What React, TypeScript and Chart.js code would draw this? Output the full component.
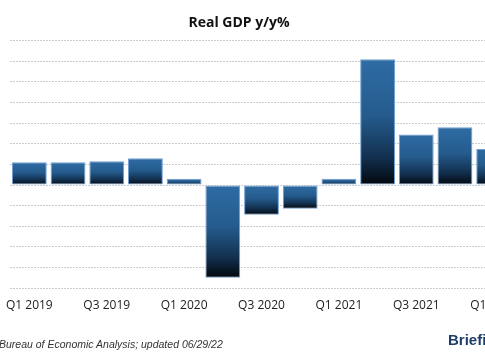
import React, { useEffect, useRef } from "react";
import { Chart, registerables } from "chart.js";

Chart.register(...registerables);

const quarters = [
  "Q1 2019", "Q2 2019", "Q3 2019", "Q4 2019",
  "Q1 2020", "Q2 2020", "Q3 2020", "Q4 2020",
  "Q1 2021", "Q2 2021", "Q3 2021", "Q4 2021",
  "Q1 2022",
];
const gdpYoY = [2.2, 2.2, 2.3, 2.6, 0.6, -9.0, -2.9, -2.3, 0.6, 12.2, 4.9, 5.6, 3.5];
const yMin = -10;
const yMax = 14;
const yStep = 2;
const titleText = "Real GDP y/y%";
const sourceText = "Bureau of Economic Analysis; updated 06/29/22";
const brandText = "Briefing.com";

const CANVAS_W = 548;
const CANVAS_H = 360;

export default function App() {
  const ref = useRef<HTMLCanvasElement | null>(null);

  useEffect(() => {
    const canvas = ref.current;
    if (!canvas) return;
    const chart = new Chart(canvas, {
      type: "bar",
      data: {
        labels: quarters,
        datasets: [
          {
            data: gdpYoY,
            backgroundColor: (c: any) => {
              const ch = c.chart;
              const ys = ch.scales && ch.scales.y;
              const v = c.raw;
              if (!ys || typeof v !== "number") return "#2d6ba3";
              const top = ys.getPixelForValue(Math.max(v, 0));
              const bot = ys.getPixelForValue(Math.min(v, 0));
              if (!isFinite(top) || !isFinite(bot) || bot - top < 1) return "#2d6ba3";
              const g = ch.ctx.createLinearGradient(0, top, 0, bot);
              g.addColorStop(0, "#2e6ca4");
              g.addColorStop(0.45, "#255b8d");
              g.addColorStop(0.78, "#12304f");
              g.addColorStop(1, "#03070d");
              return g;
            },
            borderColor: "#6f9fd2",
            borderWidth: 1,
            borderSkipped: false,
            categoryPercentage: 1,
            barPercentage: 0.9,
          },
        ],
      },
      options: {
        responsive: false,
        animation: false,
        devicePixelRatio: 1,
        layout: { padding: 0, autoPadding: false },
        plugins: {
          legend: { display: false },
          tooltip: { enabled: false },
          title: {
            display: true,
            text: titleText,
            color: "#111111",
            font: { family: "'Open Sans', sans-serif", size: 14, weight: "bold" },
            padding: { top: 15, bottom: 9 },
          },
        },
        scales: {
          x: {
            grid: { display: false, drawTicks: false },
            border: { display: false },
            ticks: {
              autoSkip: false,
              maxRotation: 0,
              padding: 10,
              color: "#222222",
              font: { family: "'Open Sans', sans-serif", size: 12 },
              callback: (_v: any, i: number) => (i % 2 === 0 ? quarters[i] : ""),
            },
            afterFit: (s: any) => {
              s.height = 72;
              s.paddingLeft = 0;
              s.paddingRight = 0;
            },
          },
          y: {
            min: yMin,
            max: yMax,
            ticks: { display: false, stepSize: yStep },
            grid: { color: "#cdcdcd", drawTicks: false, lineWidth: 1 },
            border: { display: false, dash: [2, 1] },
            afterFit: (s: any) => {
              s.width = 45;
            },
          },
        },
      },
    });
    return () => chart.destroy();
  }, []);

  return (
    <div
      style={{
        position: "absolute",
        left: 0,
        top: 0,
        width: 485,
        height: 360,
        overflow: "hidden",
        background: "#ffffff",
      }}
    >
      <canvas
        ref={ref}
        width={CANVAS_W}
        height={CANVAS_H}
        style={{ position: "absolute", left: -35, top: 0, width: CANVAS_W, height: CANVAS_H }}
      />
      <div
        style={{
          position: "absolute",
          left: -1,
          top: 338,
          fontFamily: "'Liberation Sans', sans-serif",
          fontStyle: "italic",
          fontSize: 10.5,
          color: "#333333",
          whiteSpace: "nowrap",
        }}
      >
        {sourceText}
      </div>
      <div
        style={{
          position: "absolute",
          left: 448,
          top: 331,
          fontFamily: "'Liberation Sans', sans-serif",
          fontWeight: "bold",
          fontSize: 15,
          color: "#1d3c69",
          whiteSpace: "nowrap",
        }}
      >
        {brandText}
      </div>
    </div>
  );
}
